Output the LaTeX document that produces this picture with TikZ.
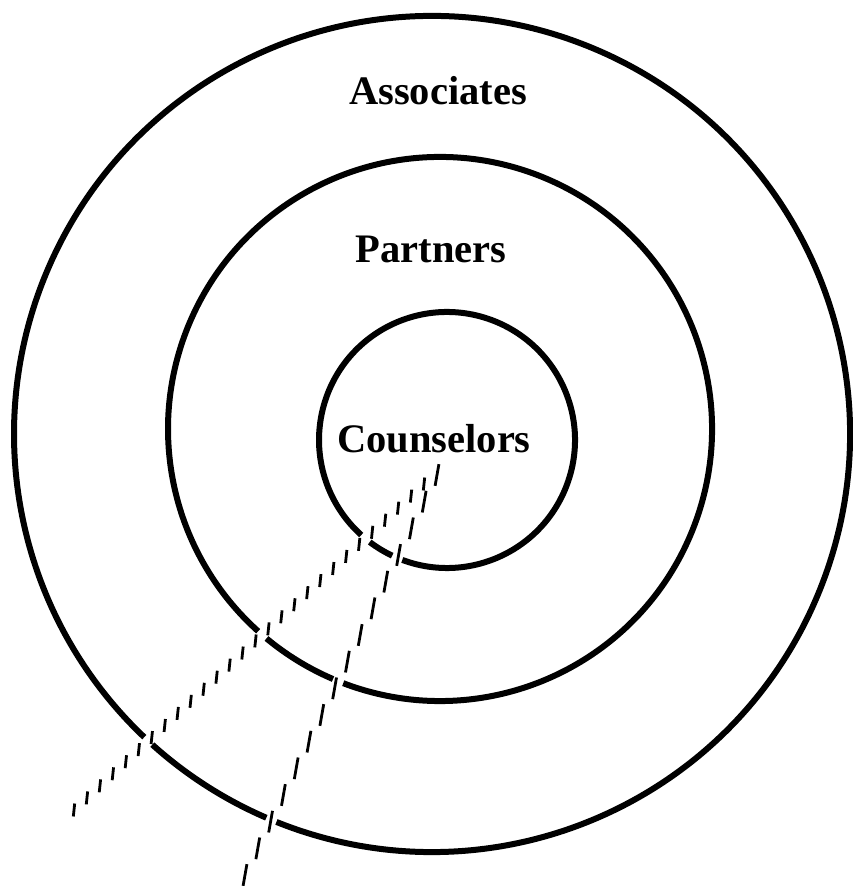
\documentclass[tikz,border=0pt]{standalone}
\usepackage{fontspec}
\setmainfont{Liberation Serif}
\begin{document}
\begin{tikzpicture}[x=1pt,y=1pt,
  ring/.style={line width=6pt},
  tickA/.style={line width=2.8pt},
  tickB/.style={line width=2.8pt},
  lbl/.style={font=\fontsize{40.5}{48}\selectfont\bfseries, anchor=base, inner sep=0pt}]
\useasboundingbox (0,0) rectangle (852,886);
\fill[white] (0,0) rectangle (852,886);
% outer ring
\draw[ring] (432,452) ++(248.15:418) arc[start angle=248.15, end angle=586.5, radius=418];
\draw[ring] (432,452) ++(228.0:418) arc[start angle=228.0, end angle=246.65, radius=418];
% middle ring
\draw[ring] (440,457) ++(249.16:272) arc[start angle=249.16, end angle=588.04, radius=272];
\draw[ring] (440,457) ++(230.36:272) arc[start angle=230.36, end angle=246.84, radius=272];
% inner ring
\draw[ring] (447,446) ++(249.56:128) arc[start angle=249.56, end angle=587.94, radius=128];
\draw[ring] (447,446) ++(232.86:128) arc[start angle=232.86, end angle=244.64, radius=128];
% cut line 1 (short ticks)
\foreach \i in {0,...,27}{
  \pgfmathsetmacro\cx{74+350*\i/27}
  \pgfmathsetmacro\cy{76+326*\i/27}
  \draw[tickA] (\cx,\cy) ++(264:6.5) -- ++(84:13);
}
% cut line 2 (long dashes)
\foreach \i in {0,...,15}{
  \pgfmathsetmacro\cx{437-192*\i/15}
  \pgfmathsetmacro\cy{411-400*\i/15}
  \draw[tickB] (\cx,\cy) ++(260:11) -- ++(80:22);
}
% labels
\node[lbl] (assoc) at (438,781.5) {Associates};
\node[lbl] (partn) at (431,623.3) {Partners};
\node[lbl] (couns) at (434,433.3) {Counselors};
\end{tikzpicture}
\end{document}
